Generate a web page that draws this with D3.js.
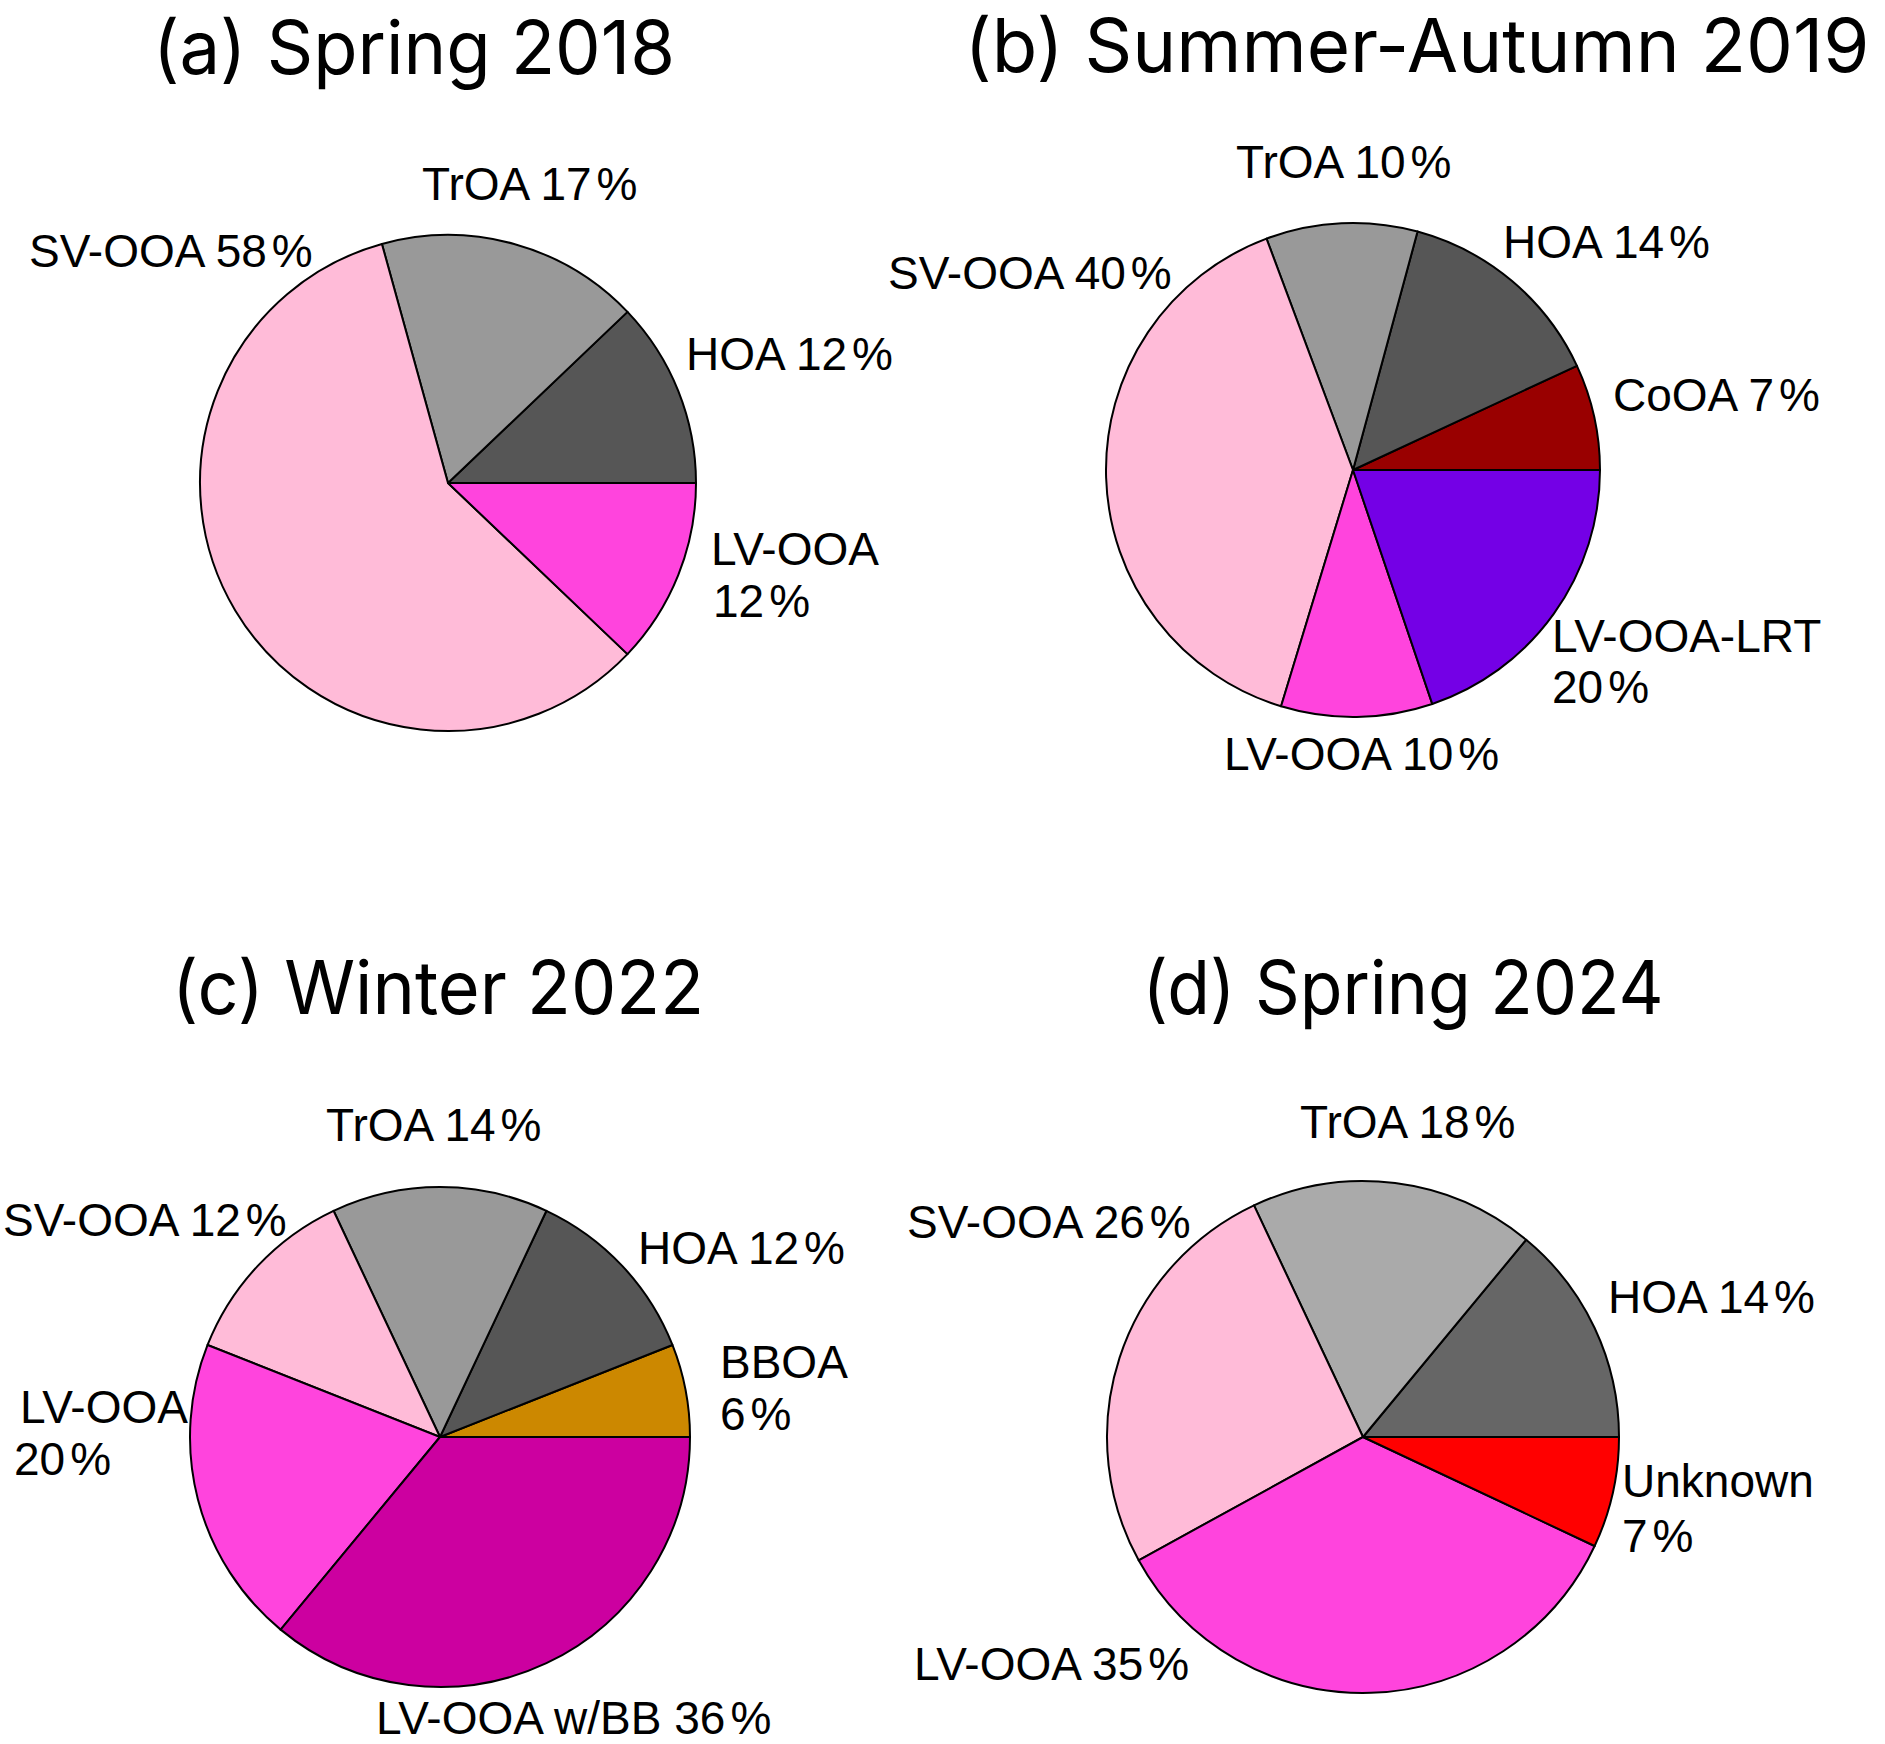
<!DOCTYPE html>
<html>
<head>
<meta charset="utf-8">
<script src="https://cdn.jsdelivr.net/npm/d3@7"></script>
<style>
  html, body { margin: 0; padding: 0; background: #fff; }
  svg { display: block; }
</style>
</head>
<body>
<div id="chart"></div>
<script>
// panel titles
const titles = ['(a) Spring 2018', '(b) Summer-Autumn 2019', '(c) Winter 2022', '(d) Spring 2024'];

// factors per campaign, counter-clockwise from 3 o'clock
const factorsA = ['HOA', 'TrOA', 'SV-OOA', 'LV-OOA'];
const valuesA = [12, 17, 58, 12];

const factorsB = ['CoOA', 'HOA', 'TrOA', 'SV-OOA', 'LV-OOA', 'LV-OOA-LRT'];
const valuesB = [7, 14, 10, 40, 10, 20];

const factorsC = ['BBOA', 'HOA', 'TrOA', 'SV-OOA', 'LV-OOA', 'LV-OOA w/BB'];
const valuesC = [6, 12, 14, 12, 20, 36];

const factorsD = ['HOA', 'TrOA', 'SV-OOA', 'LV-OOA', 'Unknown'];
const valuesD = [14, 18, 26, 35, 7];

const colorsA = ['#565656', '#999999', '#FFBBD8', '#FF44DD'];
const colorsB = ['#990000', '#565656', '#999999', '#FFBBD8', '#FF44DD', '#7400E6'];
const colorsC = ['#CC8800', '#565656', '#999999', '#FFBBD8', '#FF44DD', '#CC00A0'];
const colorsD = ['#666666', '#AAAAAA', '#FFBBD8', '#FF44DD', '#FF0000'];

// layout: pie centre / radius and label anchors (left, baseline) relative to centre
const layout = [
  { cx: 448, cy: 483, r: 248, tx: 414, ty: 74, tw: 522,
    labels: [[238, -113], [-26, -283], [-419, -216], [263, 82, 265, 134]] },
  { cx: 1353, cy: 470, r: 247, tx: 1417, ty: 72, tw: 905,
    labels: [[260, -59], [150, -212], [-117, -292], [-465, -181], [-129, 300], [199, 182, 199, 233]] },
  { cx: 440, cy: 1437, r: 250, tx: 438, ty: 1014, tw: 532,
    labels: [[280, -59, 280, -7], [198, -173], [-114, -296], [-437, -201], [-420, -14, -426, 38], [-64, 297]] },
  { cx: 1363, cy: 1437, r: 256, tx: 1403, ty: 1014, tw: 521,
    labels: [[245, -124], [-63, -299], [-456, -199], [-449, 243], [259, 60, 259, 115]] },
];

const panels = [
  { factors: factorsA, values: valuesA, colors: colorsA },
  { factors: factorsB, values: valuesB, colors: colorsB },
  { factors: factorsC, values: valuesC, colors: colorsC },
  { factors: factorsD, values: valuesD, colors: colorsD },
];

const W = 1885, H = 1744;

const svg = d3.select('#chart').append('svg')
  .attr('width', W).attr('height', H)
  .attr('viewBox', `0 0 ${W} ${H}`);

const pie = d3.pie().sort(null).value(d => d.value)
  .startAngle(Math.PI / 2).endAngle(Math.PI / 2 - 2 * Math.PI);

panels.forEach((p, i) => {
  const L = layout[i];
  const rows = p.factors.map((f, j) => ({ name: f, value: p.values[j], color: p.colors[j] }));
  const arc = d3.arc().innerRadius(0).outerRadius(L.r);

  svg.append('text')
    .attr('x', L.tx).attr('y', L.ty)
    .attr('text-anchor', 'middle')
    .attr('textLength', L.tw).attr('lengthAdjust', 'spacingAndGlyphs')
    .style('font-family', 'Inter, "Noto Sans", sans-serif')
    .style('font-size', '74px')
    .text(titles[i]);

  const g = svg.append('g').attr('transform', `translate(${L.cx},${L.cy})`);

  g.selectAll('path')
    .data(pie(rows))
    .enter()
    .append('path')
    .attr('d', arc)
    .attr('fill', d => d.data.color)
    .attr('stroke', '#000')
    .attr('stroke-width', 2)
    .attr('stroke-linejoin', 'round');

  // labels, "12 %" with a narrow gap before the percent sign
  rows.forEach((d, j) => {
    const pos = L.labels[j];
    const txt = g.append('text')
      .style('font-family', '"Liberation Sans", Arial, sans-serif')
      .style('font-size', '46px')
      .attr('fill', '#000');
    if (pos.length === 2) {
      txt.attr('x', pos[0]).attr('y', pos[1]);
      txt.append('tspan').text(d.name + ' ' + d.value);
    } else {
      txt.append('tspan').attr('x', pos[0]).attr('y', pos[1]).text(d.name);
      txt.append('tspan').attr('x', pos[2]).attr('y', pos[3]).text(d.value);
    }
    txt.append('tspan').attr('dx', 5).text('%');
  });
});
</script>
</body>
</html>
